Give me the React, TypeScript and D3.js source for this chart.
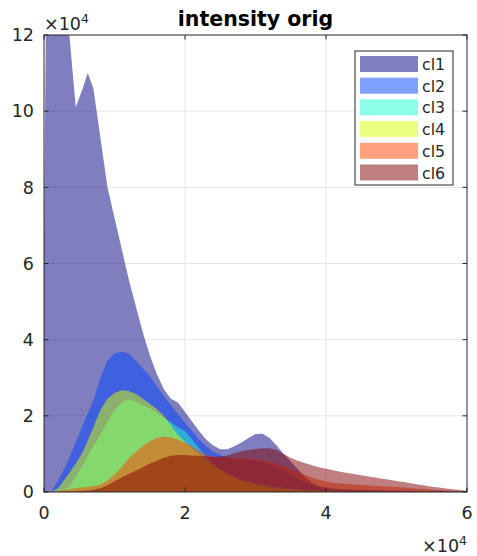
import React from "react";
import * as d3 from "d3";

const xs = [0, 0.03, 0.1, 0.2, 0.3, 0.36, 0.45, 0.55, 0.62, 0.7, 0.8, 0.9, 1.0, 1.1, 1.2, 1.3, 1.4, 1.5, 1.6, 1.7, 1.8, 1.9, 2.0, 2.1, 2.2, 2.3, 2.4, 2.5, 2.6, 2.7, 2.8, 2.9, 3.0, 3.1, 3.2, 3.3, 3.4, 3.5, 3.6, 3.7, 3.8, 3.9, 4.0, 4.1, 4.2, 4.3, 4.4, 4.5, 4.6, 4.7, 4.8, 4.9, 5.0, 5.1, 5.2, 5.3, 5.4, 5.5, 5.6, 5.7, 5.8, 5.9, 6.0];

const cl1 = [6.8, 13, 13, 13, 13, 12, 10.1, 10.6, 11.0, 10.6,
  9.3, 8.0, 7.2, 6.4, 5.6, 4.9, 4.2, 3.6, 3.1, 2.7,
  2.45, 2.35, 2.1, 1.85, 1.6, 1.38, 1.22, 1.12, 1.12, 1.2,
  1.3, 1.42, 1.52, 1.53, 1.42, 1.22, 1.0, 0.8, 0.6, 0.4,
  0.25, 0.16, 0.11, 0.09, 0.08, 0.07, 0.06, 0.06, 0.05, 0.05,
  0.04, 0.04, 0.03, 0.03, 0.03, 0.02, 0.02, 0.02, 0.02, 0.01,
  0.01, 0.01, 0.01];

const cl2 = [0, 0, 0, 0.3, 0.65, 0.9, 1.3, 1.75, 2.05, 2.4,
  3.0, 3.45, 3.64, 3.68, 3.64, 3.45, 3.25, 3.05, 2.78, 2.52,
  2.28, 2.05, 1.82, 1.6, 1.38, 1.2, 1.06, 0.97, 0.9, 0.86,
  0.85, 0.85, 0.83, 0.79, 0.73, 0.65, 0.55, 0.45, 0.35, 0.26,
  0.18, 0.12, 0.08, 0.06, 0.05, 0.04, 0.04, 0.03, 0.03, 0.03,
  0.02, 0.02, 0.02, 0.02, 0.01, 0.01, 0.01, 0.01, 0.01, 0.01,
  0, 0, 0];

const cl3 = [0, 0, 0, 0, 0.05, 0.15, 0.4, 0.7, 0.95, 1.2,
  1.5, 1.85, 2.15, 2.35, 2.42, 2.38, 2.28, 2.2, 2.08, 1.95,
  1.83, 1.7, 1.6, 1.38, 1.15, 0.93, 0.75, 0.6, 0.48, 0.39,
  0.32, 0.27, 0.23, 0.2, 0.17, 0.14, 0.12, 0.1, 0.08, 0.06,
  0.05, 0.04, 0.03, 0.02, 0.02, 0.01, 0.01, 0.01, 0.01, 0.01,
  0, 0, 0, 0, 0, 0, 0, 0, 0, 0,
  0, 0, 0];

const cl4 = [0, 0, 0, 0.1, 0.35, 0.5, 0.75, 1.05, 1.35, 1.7,
  2.15, 2.45, 2.6, 2.67, 2.65, 2.58, 2.45, 2.32, 2.18, 2.0,
  1.75, 1.5, 1.32, 1.15, 1.0, 0.84, 0.7, 0.58, 0.47, 0.38,
  0.3, 0.24, 0.19, 0.15, 0.12, 0.1, 0.08, 0.06, 0.05, 0.04,
  0.03, 0.02, 0.02, 0.01, 0.01, 0.01, 0.01, 0, 0, 0,
  0, 0, 0, 0, 0, 0, 0, 0, 0, 0,
  0, 0, 0];

const cl5 = [0, 0, 0, 0.02, 0.05, 0.07, 0.1, 0.12, 0.13, 0.15,
  0.2, 0.3, 0.45, 0.65, 0.88, 1.05, 1.2, 1.33, 1.42, 1.45,
  1.43, 1.38, 1.3, 1.2, 1.08, 0.98, 0.93, 0.91, 0.9, 0.9,
  0.89, 0.87, 0.85, 0.82, 0.79, 0.74, 0.67, 0.6, 0.52, 0.45,
  0.38, 0.32, 0.27, 0.24, 0.22, 0.21, 0.2, 0.19, 0.18, 0.16,
  0.15, 0.14, 0.13, 0.12, 0.1, 0.09, 0.08, 0.06, 0.05, 0.04,
  0.03, 0.02, 0.01];

const cl6 = [0, 0, 0, 0, 0.01, 0.01, 0.02, 0.03, 0.04, 0.06,
  0.1, 0.18, 0.28, 0.38, 0.47, 0.56, 0.65, 0.74, 0.82, 0.9,
  0.95, 0.97, 0.97, 0.96, 0.95, 0.93, 0.92, 0.93, 0.96, 1.02,
  1.07, 1.1, 1.13, 1.15, 1.15, 1.1, 1.0, 0.9, 0.82, 0.76,
  0.7, 0.65, 0.61, 0.57, 0.53, 0.5, 0.47, 0.44, 0.41, 0.38,
  0.35, 0.32, 0.29, 0.26, 0.23, 0.2, 0.17, 0.14, 0.12, 0.09,
  0.07, 0.05, 0.03];

const seriesNames = ["cl1", "cl2", "cl3", "cl4", "cl5", "cl6"];
const seriesValues = [cl1, cl2, cl3, cl4, cl5, cl6];
const seriesColors = ["#000080", "#0041ff", "#1affd2", "#dcff00", "#ff4100", "#800000"];

const xTicks = [0, 2, 4, 6];
const yTicks = [0, 2, 4, 6, 8, 10, 12];
const title = "intensity orig";

const W = 477;
const H = 556;
const L = 44, R = 467, T = 35, B = 492;
const FONT = "DejaVu Sans, sans-serif";
const AX = "#262626";

export default function App() {
  const x = d3.scaleLinear().domain([0, 6]).range([L, R]);
  const y = d3.scaleLinear().domain([0, 12]).range([B, T]);
  const area = d3
    .area<number>()
    .x((_, i) => x(xs[i]))
    .y0(y(0))
    .y1((d) => y(d))
    .curve(d3.curveLinear);

  const tickLen = 4.5;
  const legX = 355, legY = 51, legW = 98, legH = 134;
  const rowH = 21.7;

  return (
    <div style={{ position: "absolute", left: 0, top: 0 }}>
      <svg width={W} height={H} style={{ display: "block", background: "#fff" }}>
        <defs>
          <clipPath id="plotclip">
            <rect x={L} y={T} width={R - L} height={B - T} />
          </clipPath>
        </defs>
        <rect x={L} y={T} width={R - L} height={B - T} fill="#fff" />
        {xTicks.slice(1, -1).map((t) => (
          <line key={"gx" + t} x1={x(t)} x2={x(t)} y1={T} y2={B} stroke="#e6e6e6" strokeWidth={1} />
        ))}
        {yTicks.slice(1, -1).map((t) => (
          <line key={"gy" + t} x1={L} x2={R} y1={y(t)} y2={y(t)} stroke="#e6e6e6" strokeWidth={1} />
        ))}
        <g clipPath="url(#plotclip)">
          {seriesValues.map((vals, i) => (
            <path key={seriesNames[i]} d={area(vals) || ""} fill={seriesColors[i]} fillOpacity={0.5} stroke="none" />
          ))}
        </g>
        <rect x={L} y={T} width={R - L} height={B - T} fill="none" stroke={AX} strokeWidth={1} />
        {xTicks.map((t) => (
          <g key={"tx" + t}>
            <line x1={x(t)} x2={x(t)} y1={B} y2={B - tickLen} stroke={AX} />
            <line x1={x(t)} x2={x(t)} y1={T} y2={T + tickLen} stroke={AX} />
            <text x={x(t)} y={519} textAnchor="middle" fontFamily={FONT} fontSize={17.5} fill={AX}>
              {t}
            </text>
          </g>
        ))}
        {yTicks.map((t) => (
          <g key={"ty" + t}>
            <line x1={L} x2={L + tickLen} y1={y(t)} y2={y(t)} stroke={AX} />
            <line x1={R} x2={R - tickLen} y1={y(t)} y2={y(t)} stroke={AX} />
            <text x={34} y={y(t) + 6.3} textAnchor="end" fontFamily={FONT} fontSize={17.5} fill={AX}>
              {t}
            </text>
          </g>
        ))}
        <text x={44} y={30} fontFamily={FONT} fontSize={17.5} fill={AX}>
          ×10<tspan dy={-7} fontSize={12.5}>4</tspan>
        </text>
        <text x={467} y={552} textAnchor="end" fontFamily={FONT} fontSize={17.5} fill={AX}>
          ×10<tspan dy={-7} fontSize={12.5}>4</tspan>
        </text>
        <text x={(L + R) / 2} y={26} textAnchor="middle" fontFamily={FONT} fontWeight="bold" fontSize={20.5} fill="#000">
          {title}
        </text>
        <rect x={legX} y={legY} width={legW} height={legH} fill="#fff" stroke={AX} strokeWidth={1} />
        {seriesNames.map((n, i) => (
          <g key={"lg" + n}>
            <rect x={360} y={56 + i * rowH} width={58} height={16} fill={seriesColors[i]} fillOpacity={0.5} />
            <text x={422} y={70 + i * rowH} fontFamily={FONT} fontSize={15.75} fill={AX}>
              {n}
            </text>
          </g>
        ))}
      </svg>
    </div>
  );
}
